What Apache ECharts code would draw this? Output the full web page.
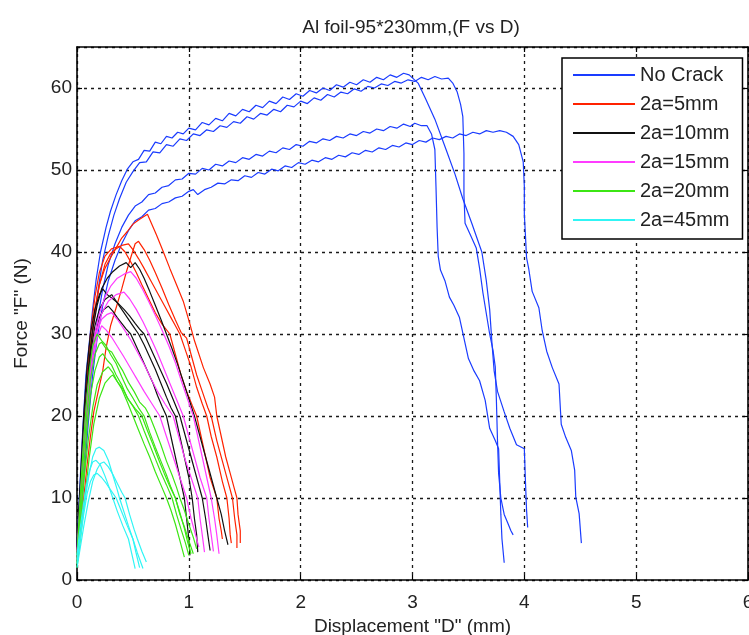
<!DOCTYPE html>
<html>
<head>
<meta charset="utf-8">
<script src="https://cdn.jsdelivr.net/npm/echarts@6/dist/echarts.min.js"></script>
<style>
  html, body { margin: 0; padding: 0; background: #fff; overflow: hidden; }
  #chart { width: 749px; height: 635px; }
</style>
</head>
<body>
<div id="chart"></div>
<script>
// Legend names, one per specimen group
const groupNames = ['No Crack', '2a=5mm', '2a=10mm', '2a=15mm', '2a=20mm', '2a=45mm'];
const groupColors = ['#1a3cff', '#ff2200', '#111111', '#ff3cff', '#3ce614', '#30f5f5'];

// Axis ticks
const xTicks = [0, 1, 2, 3, 4, 5, 6];
const yTicks = [0, 10, 20, 30, 40, 50, 60];

// Force (N) vs displacement (mm) runs, [D, F]
const noCrackRuns = [
  [[0,4],[0.02,10],[0.05,18],[0.08,25],[0.11,29],[0.14,33],[0.17,36.5],[0.21,40],[0.26,43],[0.3,45],[0.35,47],[0.4,48.7],[0.45,50.1],
   [0.5,51.0],[0.55,51.3],[0.6,52.4],[0.65,52.3],[0.7,53.4],[0.75,53.2],[0.8,54.1],[0.85,53.9],[0.9,54.6],[0.95,54.4],[1.0,55.1],[1.06,54.9],
   [1.12,55.8],[1.18,55.5],[1.24,56.3],[1.3,56.0],[1.36,56.9],[1.42,56.6],[1.48,57.4],[1.54,57.1],[1.6,57.9],[1.66,57.6],[1.72,58.4],[1.78,58.1],
   [1.84,58.9],[1.9,58.6],[1.96,59.3],[2.02,59.0],[2.08,59.7],[2.14,59.4],[2.2,60.0],[2.26,59.7],[2.32,60.4],[2.38,60.1],[2.44,60.7],[2.5,60.4],
   [2.56,61.0],[2.62,60.7],[2.68,61.3],[2.74,61.0],[2.8,61.6],[2.86,61.3],[2.92,61.8],[2.97,61.6],[3.05,60.6],[3.12,58.6],[3.2,56.2],[3.3,52.5],
   [3.38,49.5],[3.45,46.5],[3.53,43.5],[3.62,40],[3.66,36.5],[3.69,33],[3.71,29],[3.73,25.5],[3.76,23],[3.82,20.5],[3.87,18.5],[3.93,16.5],
   [4.0,16],[4.01,12],[4.02,8.5],[4.03,6.4]],
  [[0,3],[0.03,9],[0.06,17],[0.09,23],[0.12,28],[0.15,31.5],[0.19,35.5],[0.23,39],[0.28,42],[0.33,44.5],[0.38,46.5],[0.44,48.5],[0.5,49.8],
   [0.56,50.9],[0.62,51.0],[0.68,52.2],[0.74,52.1],[0.8,53.1],[0.86,52.9],[0.92,53.8],[0.98,53.6],[1.04,54.4],[1.1,54.2],[1.16,54.9],[1.22,54.7],
   [1.28,55.4],[1.34,55.2],[1.4,55.9],[1.46,55.7],[1.52,56.5],[1.58,56.2],[1.64,56.9],[1.7,56.7],[1.76,57.4],[1.82,57.1],[1.88,57.9],[1.94,57.7],
   [2.0,58.4],[2.06,58.1],[2.12,58.8],[2.18,58.5],[2.24,59.2],[2.3,58.9],[2.36,59.5],[2.42,59.3],[2.48,59.9],[2.54,59.6],[2.6,60.2],[2.66,60.0],
   [2.72,60.5],[2.78,60.3],[2.84,60.8],[2.9,60.6],[2.96,61.0],[3.02,60.8],[3.08,61.3],[3.14,61.0],[3.2,61.4],[3.26,61.1],[3.32,61.2],[3.36,60.6],
   [3.4,59.5],[3.43,58.0],[3.45,56.5],[3.46,52],[3.46,47],[3.47,43.5],[3.52,42],[3.57,40.5],[3.6,38],[3.63,35],[3.66,32.5],[3.69,30],
   [3.72,28],[3.74,26],[3.75,22],[3.76,17],[3.77,13],[3.79,10],[3.82,8],[3.85,7],[3.88,6],[3.9,5.5]],
  [[0,3.5],[0.03,8],[0.06,14],[0.1,21],[0.14,27],[0.18,31.5],[0.23,35.5],[0.28,38.5],[0.34,41],[0.4,43],[0.46,44.5],[0.52,45.6],[0.58,46.1],
   [0.64,47.0],[0.7,47.2],[0.76,47.9],[0.82,48.1],[0.88,48.8],[0.94,48.9],[1.0,49.6],[1.06,49.5],[1.12,50.2],[1.18,50.0],[1.24,50.7],[1.3,50.5],
   [1.36,51.1],[1.42,50.9],[1.48,51.5],[1.54,51.3],[1.6,51.9],[1.66,51.7],[1.72,52.3],[1.78,52.1],[1.84,52.7],[1.9,52.5],[1.96,53.1],[2.02,52.9],
   [2.08,53.5],[2.14,53.3],[2.2,53.8],[2.26,53.6],[2.32,54.1],[2.38,53.9],[2.44,54.4],[2.5,54.2],[2.56,54.7],[2.62,54.5],[2.68,55.0],[2.74,54.8],
   [2.8,55.3],[2.86,55.1],[2.92,55.6],[2.98,55.3],[3.02,55.7],[3.08,55.4],[3.13,55.4],[3.17,54.4],[3.2,52.5],[3.21,48],[3.22,43],[3.23,39.5],
   [3.25,37.8],[3.29,36.5],[3.33,34.5],[3.37,33.5],[3.42,32],[3.46,29.5],[3.5,27],[3.55,25.5],[3.6,24.3],[3.65,21.9],[3.69,18.5],[3.74,17],
   [3.77,16],[3.78,12],[3.79,8],[3.8,5],[3.82,2.1]],
  [[0,2.5],[0.03,7],[0.06,12],[0.1,19],[0.14,25],[0.18,29.5],[0.23,33.5],[0.28,36.5],[0.34,39],[0.4,41],[0.46,42.6],[0.52,43.8],[0.58,44.3],
   [0.64,45.1],[0.7,45.3],[0.76,45.9],[0.82,46.1],[0.88,46.6],[0.94,46.8],[1.0,47.4],[1.04,47.6],[1.08,47.0],[1.14,47.6],[1.2,47.9],[1.26,48.4],
   [1.32,48.3],[1.38,48.8],[1.44,48.7],[1.5,49.3],[1.56,49.1],[1.62,49.7],[1.68,49.5],[1.74,50.1],[1.8,49.9],[1.86,50.5],[1.92,50.3],[1.98,50.9],
   [2.04,50.7],[2.1,51.2],[2.16,51.0],[2.22,51.5],[2.28,51.3],[2.34,51.8],[2.4,51.6],[2.46,52.1],[2.52,51.9],[2.58,52.4],[2.64,52.2],[2.7,52.7],
   [2.76,52.5],[2.82,53.0],[2.88,52.8],[2.94,53.3],[3.0,53.1],[3.06,53.6],[3.12,53.4],[3.18,53.9],[3.24,53.7],[3.3,54.1],[3.36,53.9],[3.42,54.4],
   [3.48,54.2],[3.54,54.6],[3.6,54.4],[3.66,54.8],[3.72,54.6],[3.78,54.8],[3.84,54.6],[3.9,54.1],[3.95,53.1],[3.99,51],[4.0,48],[4.0,44.6],
   [4.01,42],[4.02,39.3],[4.04,37.9],[4.07,35.2],[4.13,33.2],[4.16,30.4],[4.2,27.9],[4.25,25.9],[4.31,23.9],[4.33,19],[4.37,17.4],[4.42,15.8],
   [4.45,13.4],[4.46,10.1],[4.49,8.1],[4.51,4.5]]
];

const crack5Runs = [
  [[0,3],[0.03,10],[0.07,18],[0.1,24],[0.13,29],[0.17,33.5],[0.2,36],[0.25,38],[0.3,39.3],[0.35,40.5],[0.4,41.7],[0.45,42.5],[0.5,43.4],
   [0.56,44],[0.63,44.6],[0.71,42.1],[0.77,40.1],[0.83,38],[0.89,36],[0.95,34],[1.01,31.2],[1.05,29.2],[1.13,25.9],[1.19,23.9],[1.23,22.3],
   [1.25,20],[1.29,17.5],[1.33,15],[1.37,13],[1.41,11],[1.43,10],[1.44,8],[1.46,6],[1.46,4.5]],
  [[0,2.4],[0.03,6],[0.06,10],[0.09,14],[0.12,17.5],[0.15,20.5],[0.19,23],[0.23,25.5],[0.26,28.3],[0.3,31],[0.35,33.2],[0.4,35.5],[0.44,37.5],
   [0.48,39.3],[0.52,41],[0.55,41.3],[0.6,40.3],[0.65,39],[0.7,37.5],[0.76,35.6],[0.82,33.6],[0.88,31.7],[0.93,30.2],[0.98,29.5],[1.02,27.5],
   [1.07,25],[1.12,23],[1.17,21],[1.2,20],[1.25,17],[1.3,14.5],[1.35,12],[1.39,10],[1.41,7.5],[1.43,5.5],[1.43,3.9]],
  [[0,3],[0.03,9.5],[0.06,17],[0.09,23.5],[0.12,28.5],[0.16,33],[0.2,36],[0.25,38.5],[0.3,39.8],[0.35,40.4],[0.4,40.8],[0.46,41.0],[0.5,40.3],
   [0.55,39.2],[0.6,38],[0.66,36.5],[0.72,35],[0.78,33.5],[0.84,32],[0.88,31],[0.92,30],[0.97,28],[1.02,26],[1.07,23.5],[1.12,21.5],[1.16,20],
   [1.2,17.5],[1.25,15],[1.3,12],[1.34,10],[1.36,7.5],[1.37,5.5],[1.38,4.5]],
  [[0,3.5],[0.03,10.5],[0.06,18.5],[0.09,25],[0.12,30],[0.16,34.5],[0.2,37.5],[0.25,39.5],[0.31,40.4],[0.38,40.7],[0.43,40],[0.48,38.8],
   [0.53,37.5],[0.58,36],[0.64,34.3],[0.7,32.6],[0.76,31.2],[0.83,30],[0.88,27.5],[0.93,25],[0.98,23],[1.03,21.3],[1.07,20],[1.11,17.5],
   [1.15,15],[1.19,12.5],[1.25,10],[1.27,7.5],[1.29,6],[1.3,5]]
];

const crack10Runs = [
  [[0,3],[0.02,9],[0.05,16],[0.08,22],[0.11,27],[0.14,30.5],[0.18,33.5],[0.22,35.5],[0.27,36.8],[0.32,37.6],[0.38,38.3],[0.44,38.7],[0.48,38.1],
   [0.52,38.7],[0.56,37.9],[0.6,36.8],[0.65,35.2],[0.7,33.5],[0.75,31.8],[0.8,30],[0.85,28.2],[0.9,26.3],[0.95,24.2],[1.0,22.1],[1.05,20],
   [1.1,17.5],[1.15,15],[1.2,12.5],[1.25,10],[1.29,8],[1.32,6],[1.35,4.3]],
  [[0,4],[0.03,12],[0.06,20],[0.09,26],[0.12,30],[0.16,33],[0.2,34.8],[0.23,35.5],[0.27,34.8],[0.32,34.3],[0.37,33.7],[0.42,33],[0.47,32.2],
   [0.52,31.3],[0.56,30.6],[0.6,30],[0.65,28.5],[0.7,27],[0.75,25.5],[0.8,24],[0.86,22],[0.92,20],[0.97,17.5],[1.02,15],[1.07,12.5],[1.12,10],
   [1.15,7.5],[1.17,5.5],[1.19,3.6]],
  [[0,3.5],[0.03,10],[0.06,17],[0.09,23],[0.12,27.5],[0.16,31],[0.2,33],[0.25,34.2],[0.31,34.8],[0.35,34],[0.4,33],[0.45,32],[0.5,31],[0.55,30],
   [0.6,28.7],[0.65,27.2],[0.7,25.7],[0.75,24],[0.8,22.3],[0.84,21],[0.88,20],[0.92,17.5],[0.96,15],[1.0,12.5],[1.03,10],[1.05,7.5],[1.07,5.5],
   [1.08,3.4]],
  [[0,3],[0.03,9],[0.06,16],[0.09,22],[0.12,26.5],[0.16,30],[0.2,32],[0.24,33],[0.28,33.4],[0.32,32.8],[0.36,32],[0.4,31.3],[0.44,30.6],
   [0.48,30],[0.53,28.5],[0.58,27],[0.63,25.5],[0.68,24],[0.72,22.5],[0.76,21.2],[0.8,20],[0.84,17.5],[0.88,15],[0.92,12.5],[0.96,10],
   [0.98,7.5],[1.0,5],[1.01,3]]
];

const crack15Runs = [
  [[0,2.5],[0.02,7],[0.05,14],[0.08,20],[0.12,26],[0.16,30],[0.2,32.5],[0.25,34.5],[0.3,35.8],[0.36,36.8],[0.42,37.3],[0.48,37.6],[0.53,36.8],
   [0.58,35.6],[0.64,34],[0.7,32.3],[0.76,30.5],[0.82,28.6],[0.88,26.5],[0.94,24],[0.99,22],[1.04,20],[1.08,17.5],[1.12,15],[1.16,12.5],
   [1.2,10],[1.23,7.5],[1.25,5.5],[1.27,3.2]],
  [[0,3],[0.03,9],[0.06,16],[0.09,21.5],[0.13,26.5],[0.17,30],[0.22,32.5],[0.28,34],[0.35,34.8],[0.42,35.1],[0.47,34.3],[0.53,33],[0.59,31.5],
   [0.65,29.8],[0.71,28],[0.77,26],[0.83,24],[0.89,22],[0.95,20],[1.0,17.5],[1.05,15],[1.1,12.5],[1.16,10],[1.18,7.5],[1.2,5.5],[1.22,3.5]],
  [[0,3.5],[0.03,10],[0.06,17],[0.09,22.5],[0.13,27],[0.17,30],[0.22,31.8],[0.27,32.4],[0.31,32.6],[0.36,31.8],[0.42,30.6],[0.48,29.3],
   [0.54,27.8],[0.6,26.3],[0.66,24.6],[0.72,23],[0.79,21.4],[0.86,20],[0.91,17.5],[0.96,15],[1.02,12.5],[1.08,10],[1.1,7.5],[1.12,5.5],[1.14,3.4]],
  [[0,2],[0.03,8],[0.06,15],[0.1,21.5],[0.14,26.5],[0.18,29.5],[0.22,31],[0.26,30.5],[0.31,29.6],[0.36,28.5],[0.42,27.2],[0.48,25.8],[0.54,24.4],
   [0.6,23],[0.67,21.5],[0.74,20],[0.8,17.5],[0.86,15],[0.92,12.5],[0.98,10],[1.02,7.5],[1.06,5.5],[1.09,4]]
];

const crack20Runs = [
  [[0,2.5],[0.02,8],[0.05,15],[0.08,21],[0.11,25.5],[0.14,28.5],[0.18,30],[0.22,29.2],[0.26,28.6],[0.3,27.5],[0.35,26.4],[0.4,24.8],[0.45,23.3],
   [0.5,22.2],[0.55,21],[0.6,20],[0.65,18],[0.7,16.2],[0.75,14.5],[0.8,12.8],[0.84,11.3],[0.88,10],[0.92,8],[0.96,6.5],[1.0,4.8],[1.04,3.2]],
  [[0,3],[0.03,9],[0.06,15.5],[0.09,20.5],[0.12,24.5],[0.16,27.5],[0.2,28.8],[0.22,29],[0.26,28.2],[0.31,27.8],[0.36,26.6],[0.41,25.5],
   [0.46,24.1],[0.51,23],[0.56,21.7],[0.61,21],[0.65,20],[0.7,18.3],[0.75,16.5],[0.8,14.5],[0.85,12.8],[0.89,11.3],[0.92,10],[0.96,8.5],
   [1.0,6.8],[1.04,5.2],[1.07,3.8]],
  [[0,2],[0.03,7],[0.06,13],[0.09,18.5],[0.12,22.5],[0.16,25.5],[0.2,27.2],[0.23,27.6],[0.27,26.8],[0.31,26.2],[0.35,25],[0.4,23.8],[0.45,22.2],
   [0.5,21.2],[0.55,20],[0.6,18.2],[0.65,16.5],[0.7,14.8],[0.75,13.1],[0.8,11.6],[0.85,10],[0.89,8],[0.93,6.2],[0.97,4.5],[1.0,3]],
  [[0,2],[0.03,6.5],[0.06,12],[0.1,17],[0.14,21],[0.18,23.8],[0.23,25.4],[0.28,26],[0.32,25.3],[0.36,24.2],[0.4,23.3],[0.45,21.7],[0.5,20],
   [0.55,18.3],[0.6,16.6],[0.65,15],[0.7,13.2],[0.75,11.6],[0.8,10],[0.84,8.5],[0.88,6.8],[0.92,4.8],[0.96,2.8]],
  [[0,1.5],[0.03,5],[0.07,10],[0.11,15],[0.15,19],[0.2,22.2],[0.25,24],[0.3,24.8],[0.32,25],[0.36,24.2],[0.41,23.3],[0.46,22],[0.52,20.9],
   [0.58,20],[0.63,18.2],[0.68,16.5],[0.73,14.7],[0.78,13],[0.83,11.4],[0.88,10],[0.92,8.2],[0.96,6.3],[0.99,4.6],[1.02,3.2]]
];

const crack45Runs = [
  [[0,2],[0.02,4.5],[0.05,7.5],[0.08,10.5],[0.11,13],[0.14,15],[0.17,16],[0.2,16.2],[0.24,15.8],[0.28,14.6],[0.32,12.8],[0.36,11],[0.38,10],
   [0.42,8.3],[0.46,6.6],[0.5,5],[0.54,3.3],[0.59,1.4]],
  [[0,3],[0.02,5.5],[0.05,8.5],[0.08,11.3],[0.11,13.3],[0.14,14.4],[0.17,14.6],[0.21,14],[0.25,12.7],[0.29,11.2],[0.32,10],[0.36,8.4],
   [0.41,6.6],[0.46,5],[0.49,3.2],[0.52,1.4]],
  [[0,1.5],[0.03,4],[0.06,6.5],[0.1,9.5],[0.14,12],[0.18,13.5],[0.21,14.2],[0.24,14.4],[0.28,13.8],[0.32,12.9],[0.36,11.8],[0.4,10.7],
   [0.43,10],[0.47,8],[0.51,6.2],[0.54,5],[0.58,3.5],[0.62,2.2]],
  [[0,2.5],[0.03,5],[0.06,8],[0.09,10.5],[0.12,12],[0.15,12.8],[0.18,13],[0.22,12.5],[0.26,11.8],[0.3,11],[0.35,10],[0.4,8.3],[0.45,6.6],
   [0.5,5],[0.53,3.2],[0.56,1.5]]
];

const groupRuns = [noCrackRuns, crack5Runs, crack10Runs, crack15Runs, crack20Runs, crack45Runs];

const FONT = '"Liberation Sans", Arial, sans-serif';

const series = [];
groupRuns.forEach((runs, g) => {
  runs.forEach(run => {
    series.push({
      name: groupNames[g],
      type: 'line',
      data: run,
      showSymbol: false,
      symbol: 'none',
      lineStyle: { color: groupColors[g], width: 1.2 },
      itemStyle: { color: groupColors[g] },
      emphasis: { disabled: true },
      animation: false
    });
  });
});

const gridLine = { show: true, lineStyle: { color: '#1a1a1a', width: 1.3, type: [3, 4] } };
const frameLine = { show: true, onZero: false, lineStyle: { color: '#000', width: 1.6 } };
const innerTick = { show: true, inside: true, length: 5, lineStyle: { color: '#000', width: 1.2 } };

const chart = echarts.init(document.getElementById('chart'), null, { renderer: 'canvas' });
chart.setOption({
  backgroundColor: '#ffffff',
  animation: false,
  title: {
    text: 'Al foil-95*230mm,(F vs D)',
    left: 411,
    top: 18,
    padding: 0,
    textAlign: 'center',
    textStyle: { fontFamily: FONT, fontSize: 19, fontWeight: 'normal', color: '#222' }
  },
  legend: {
    data: groupNames,
    orient: 'vertical',
    left: 562,
    top: 58,
    padding: [7, 13, 9, 11],
    itemWidth: 62,
    itemHeight: 2,
    itemGap: 9,
    icon: 'rect',
    backgroundColor: '#ffffff',
    borderColor: '#000',
    borderWidth: 1.5,
    selectedMode: false,
    textStyle: { fontFamily: FONT, fontSize: 20, lineHeight: 20, color: '#222' }
  },
  grid: { left: 77, top: 47, right: 1, bottom: 55, containLabel: false, outerBoundsMode: 'none' },
  xAxis: [
    {
      type: 'value', min: xTicks[0], max: xTicks[xTicks.length - 1], interval: 1,
      name: 'Displacement "D" (mm)', nameLocation: 'middle', nameGap: 35,
      nameTextStyle: { fontFamily: FONT, fontSize: 19, color: '#222' },
      axisLine: frameLine, axisTick: innerTick,
      axisLabel: { fontFamily: FONT, fontSize: 19, color: '#222', margin: 13 },
      splitLine: gridLine
    },
    {
      type: 'value', position: 'top', min: xTicks[0], max: xTicks[xTicks.length - 1], interval: 1,
      axisLine: frameLine, axisTick: innerTick, axisLabel: { show: false }, splitLine: { show: false }
    }
  ],
  yAxis: [
    {
      type: 'value', min: yTicks[0], max: 65, interval: 10,
      name: 'Force "F" (N)', nameLocation: 'middle', nameGap: 46,
      nameTextStyle: { fontFamily: FONT, fontSize: 19, color: '#222' },
      axisLine: frameLine, axisTick: innerTick,
      axisLabel: { fontFamily: FONT, fontSize: 19, color: '#222', margin: 5, showMaxLabel: false,
        formatter: v => (yTicks.indexOf(v) >= 0 ? String(v) : '') },
      splitLine: gridLine
    },
    {
      type: 'value', position: 'right', min: yTicks[0], max: 65, interval: 10,
      axisLine: frameLine, axisTick: innerTick, axisLabel: { show: false }, splitLine: { show: false }
    }
  ],
  series: series
});
</script>
</body>
</html>
